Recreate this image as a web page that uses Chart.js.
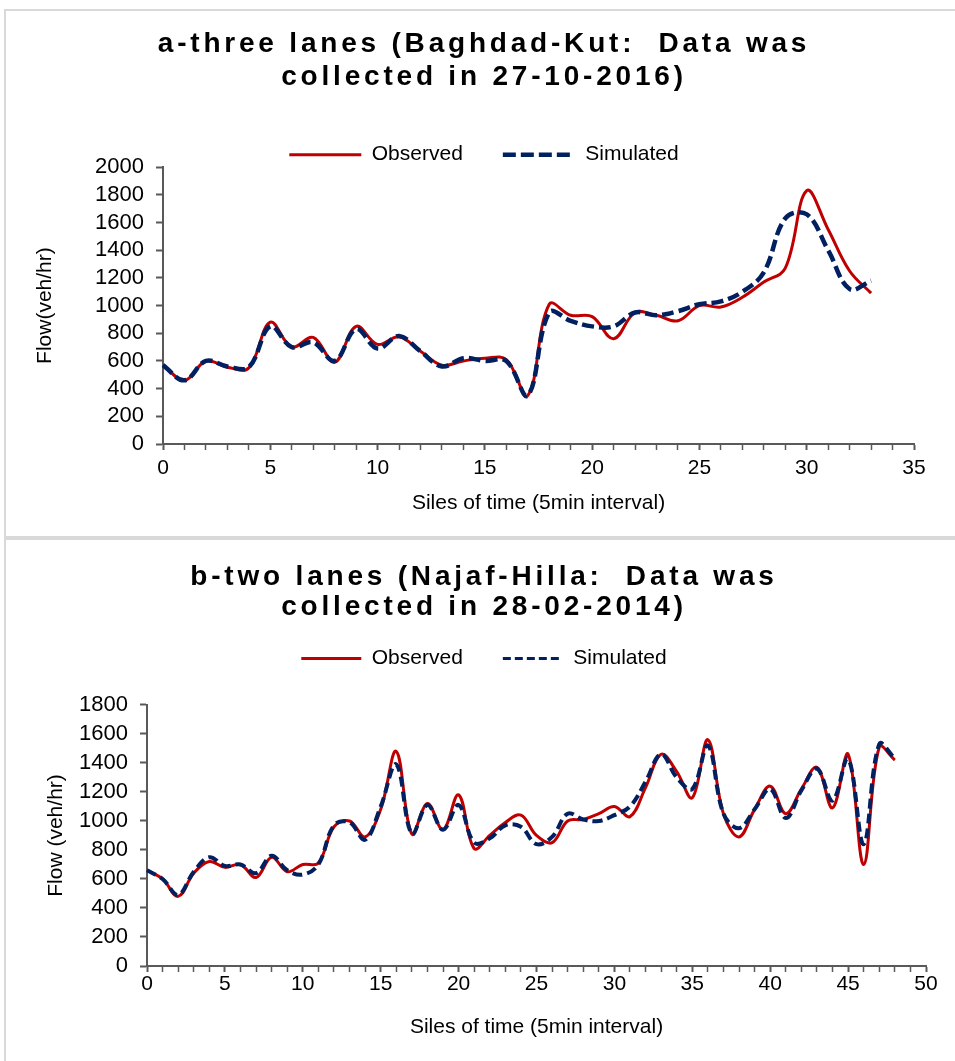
<!DOCTYPE html>
<html>
<head>
<meta charset="utf-8">
<title>Observed vs simulated flow</title>
<script src="https://cdn.jsdelivr.net/npm/chart.js@4.4.1/dist/chart.umd.min.js"></script>
<style>
  html, body { margin: 0; padding: 0; background: #fff; overflow: hidden; }
  body { width: 955px; height: 1061px; position: relative; }
  .panel { position: absolute; left: 4px; width: 960px; border: 2px solid #d9d9d9; box-sizing: border-box; background: #fff; }
  #panelA { top: 9px; height: 529px; }
  #panelB { top: 538px; height: 540px; }
  .panel canvas { display: block; }
</style>
</head>
<body>
<div class="panel" id="panelA"><canvas id="chartA" width="956" height="525"></canvas></div>
<div class="panel" id="panelB"><canvas id="chartB" width="956" height="530"></canvas></div>

<script>
// a - three lanes, Baghdad-Kut (27-10-2016)
const slicesA = [0, 1, 2, 3, 4, 5, 6, 7, 8, 9, 10, 11, 12, 13, 14, 15, 16, 17,
  18, 19, 20, 21, 22, 23, 24, 25, 26, 27, 28, 29, 30, 31, 32, 33, 34, 35];
const observedA = [570, 460, 600, 555, 550, 880, 700, 770, 590, 850, 720, 775,
  670, 570, 600, 620, 610, 350, 1010, 930, 920, 760, 950, 930, 890, 1000, 990,
  1060, 1170, 1270, 1830, 1550, 1250, 1090];
const simulatedA = [570, 460, 600, 560, 555, 850, 700, 735, 600, 830, 690, 780,
  670, 560, 620, 600, 600, 350, 950, 890, 850, 850, 950, 930, 960, 1010, 1030,
  1100, 1240, 1630, 1660, 1400, 1120, 1180];
const xLabelsA = [0, 5, 10, 15, 20, 25, 30, 35];
const yTicksA = [0, 200, 400, 600, 800, 1000, 1200, 1400, 1600, 1800, 2000];

// b - two lanes, Najaf-Hilla (28-02-2014)
const slicesB = [0, 1, 2, 3, 4, 5, 6, 7, 8, 9, 10, 11, 12, 13, 14, 15, 16, 17,
  18, 19, 20, 21, 22, 23, 24, 25, 26, 27, 28, 29, 30, 31, 32, 33, 34, 35, 36,
  37, 38, 39, 40, 41, 42, 43, 44, 45, 46, 47, 48, 49, 50];
const observedB = [660, 600, 480, 640, 720, 680, 700, 610, 750, 650, 700, 710,
  960, 1000, 890, 1080, 1480, 910, 1120, 940, 1180, 810, 900, 990, 1040, 900,
  850, 1000, 1010, 1050, 1100, 1030, 1230, 1460, 1340, 1160, 1560, 1050, 890,
  1080, 1240, 1050, 1220, 1370, 1090, 1460, 700, 1510, 1420];
const simulatedB = [660, 600, 490, 650, 750, 690, 700, 640, 760, 660, 630, 700,
  970, 990, 870, 1100, 1390, 910, 1110, 940, 1110, 850, 880, 970, 960, 840,
  890, 1050, 1010, 1000, 1040, 1100, 1270, 1460, 1300, 1220, 1520, 1050, 950,
  1080, 1220, 1020, 1210, 1360, 1140, 1430, 840, 1530, 1430];
const xLabelsB = [0, 5, 10, 15, 20, 25, 30, 35, 40, 45, 50];
const yTicksB = [0, 200, 400, 600, 800, 1000, 1200, 1400, 1600, 1800];

const FONT = "'Liberation Sans', Arial, sans-serif";
const AXIS = '#595959';
const RED = '#c00000';
const NAVY = '#002060';

// spaced title letters + extra room under the legend
const panelTweaks = {
  id: 'panelTweaks',
  afterInit(chart, args, opts) {
    const title = chart.titleBlock;
    const drawTitle = title.draw.bind(title);
    title.draw = function () {
      chart.ctx.letterSpacing = opts.letterSpacing;
      drawTitle();
      chart.ctx.letterSpacing = '0px';
    };
    const legend = chart.legend;
    const fitLegend = legend.fit.bind(legend);
    legend.fit = function () {
      fitLegend();
      legend.height += opts.legendGap;
    };
  }
};

function legendLabels(chart) {
  const items = Chart.defaults.plugins.legend.labels.generateLabels(chart);
  items.forEach(item => {
    const ds = chart.data.datasets[item.datasetIndex];
    item.lineWidth = ds.legendWidth || ds.borderWidth;
    item.lineDash = ds.legendDash || ds.borderDash || [];
    item.strokeStyle = ds.borderColor;
  });
  return items;
}

function flowChart(id, p) {
  const ctx = document.getElementById(id).getContext('2d');
  return new Chart(ctx, {
    type: 'line',
    data: {
      labels: p.slices,
      datasets: [
        {
          label: 'Observed',
          data: p.observed,
          borderColor: RED,
          borderWidth: 3,
          pointRadius: 0,
          tension: 0.38,
          order: 1
        },
        {
          label: 'Simulated',
          data: p.simulated,
          borderColor: NAVY,
          borderWidth: p.dashWidth,
          borderDash: p.dash,
          legendWidth: p.legendDashWidth,
          legendDash: p.legendDash,
          pointRadius: 0,
          tension: 0.38,
          order: 0
        }
      ]
    },
    options: {
      responsive: false,
      animation: false,
      events: [],
      layout: { padding: { left: p.side, right: p.side, top: 0, bottom: 0 } },
      plugins: {
        panelTweaks: { letterSpacing: '3.8px', legendGap: p.legendGap },
        title: {
          display: true,
          text: p.title,
          color: '#000',
          font: { family: FONT, size: 28, weight: 'bold', lineHeight: p.titleLine },
          padding: p.titlePad
        },
        legend: {
          position: 'top',
          reverse: true,
          labels: {
            usePointStyle: true,
            pointStyle: 'line',
            pointStyleWidth: p.legendLine,
            padding: 40,
            color: '#000',
            font: { family: FONT, size: 21 },
            generateLabels: legendLabels
          }
        },
        tooltip: { enabled: false }
      },
      scales: {
        x: {
          type: 'category',
          offset: false,
          afterFit(scale) { scale.height = p.xHeight; },
          grid: {
            offset: false,
            drawOnChartArea: false,
            tickLength: 6,
            tickColor: AXIS,
            tickWidth: c => (p.xLabels.includes(p.slices[c.index]) ? 2 : 1.5)
          },
          border: { color: AXIS, width: 2 },
          ticks: {
            autoSkip: false,
            maxRotation: 0,
            padding: p.xPad,
            color: '#000',
            font: { family: FONT, size: 21 },
            callback: (v, i) => (p.xLabels.includes(p.slices[i]) ? p.slices[i] : '')
          },
          title: {
            display: true,
            text: 'Siles of time (5min interval)',
            color: '#000',
            font: { family: FONT, size: 21 },
            padding: { top: 0, bottom: p.xTitlePad }
          }
        },
        y: {
          min: p.yTicks[0],
          max: p.yTicks[p.yTicks.length - 1],
          afterFit(scale) { scale.width = p.yWidth; },
          grid: { drawOnChartArea: false, tickLength: 7, tickColor: AXIS, tickWidth: 2 },
          border: { color: AXIS, width: 2 },
          ticks: {
            stepSize: p.yTicks[1] - p.yTicks[0],
            autoSkip: false,
            padding: 12,
            color: '#000',
            font: { family: FONT, size: 22 },
            callback: v => String(v)
          },
          title: {
            display: true,
            text: p.yTitle,
            color: '#000',
            font: { family: FONT, size: 21 },
            padding: { top: p.yTitlePad, bottom: 0 }
          }
        }
      }
    },
    plugins: [panelTweaks]
  });
}

flowChart('chartA', {
  title: ['a-three lanes (Baghdad-Kut:  Data was', 'collected in 27-10-2016)'],
  titleLine: 1.2,
  titlePad: { top: 16, bottom: 10 },
  slices: slicesA,
  observed: observedA,
  simulated: simulatedA,
  xLabels: xLabelsA,
  yTicks: yTicksA,
  yTitle: 'Flow(veh/hr)',
  dash: [12, 5],
  dashWidth: 4.5,
  legendDash: [13, 5],
  legendDashWidth: 4.5,
  legendLine: 72,
  legendGap: -8,
  side: 48,
  yWidth: 109,
  yTitlePad: -21,
  xHeight: 92,
  xPad: 6,
  xTitlePad: 20
});

flowChart('chartB', {
  title: ['b-two lanes (Najaf-Hilla:  Data was', 'collected in 28-02-2014)'],
  titleLine: 1.07,
  titlePad: { top: 22, bottom: -14 },
  slices: slicesB,
  observed: observedB,
  simulated: simulatedB,
  xLabels: xLabelsB,
  yTicks: yTicksB,
  yTitle: 'Flow (veh/hr)',
  dash: [10, 5],
  dashWidth: 4,
  legendDash: [8, 4],
  legendDashWidth: 3,
  legendLine: 60,
  legendGap: 26,
  side: 36,
  yWidth: 105,
  yTitlePad: 2,
  xHeight: 104,
  xPad: 0,
  xTitlePad: 30
});
</script>
</body>
</html>
